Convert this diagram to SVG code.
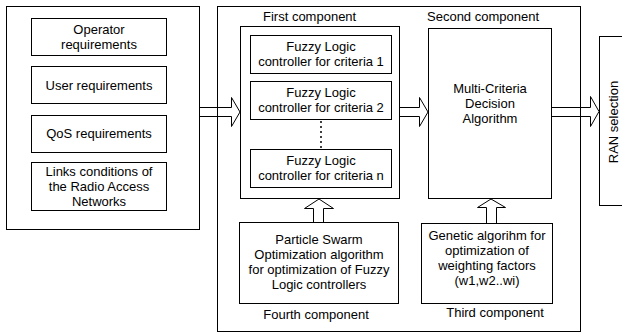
<svg xmlns="http://www.w3.org/2000/svg" width="622" height="333" viewBox="0 0 622 333">
<style>
.b{fill:#fff;stroke:#000;stroke-width:1}
.c{fill:none;stroke:#000;stroke-width:1}
.a{fill:none;stroke:#000;stroke-width:1;stroke-linejoin:miter}
text{font-family:"Liberation Sans",Arial,sans-serif;font-size:13px;fill:#000}
.m{text-anchor:middle}
</style>
<rect width="622" height="333" fill="#fff"/>
<g id="inputs">
<rect class="c" x="6.5" y="6.5" width="193" height="223"/>
<g id="operator"><rect class="b" x="31.5" y="18.5" width="135" height="37"/><text class="m" x="99" y="34">Operator</text><text class="m" x="99" y="49">requirements</text></g>
<g id="user"><rect class="b" x="31.5" y="66.5" width="135" height="37"/><text class="m" x="99" y="90">User requirements</text></g>
<g id="qos"><rect class="b" x="31.5" y="115.5" width="135" height="37"/><text class="m" x="99" y="138">QoS requirements</text></g>
<g id="links"><rect class="b" x="31.5" y="162.5" width="135" height="48"/><text class="m" x="99" y="176">Links conditions of</text><text class="m" x="99" y="191">the Radio Access</text><text class="m" x="99" y="206">Networks</text></g>
</g>
<g id="system">
<rect class="c" x="217.5" y="6.5" width="363" height="325"/>
</g>
<g id="first">
<text x="263" y="21">First component</text>
<rect class="c" x="240.5" y="26.5" width="159" height="172"/>
<g id="fl1"><rect class="b" x="250.5" y="35.5" width="141" height="38"/><text class="m" x="321" y="51">Fuzzy Logic</text><text class="m" x="321" y="66">controller for criteria 1</text></g>
<g id="fl2"><rect class="b" x="250.5" y="81.5" width="141" height="38"/><text class="m" x="321" y="97">Fuzzy Logic</text><text class="m" x="321" y="112">controller for criteria 2</text></g>
<g id="fln"><rect class="b" x="250.5" y="149.5" width="141" height="38"/><text class="m" x="321" y="165">Fuzzy Logic</text><text class="m" x="321" y="180">controller for criteria n</text></g>
</g>
<g id="second">
<text x="427" y="21">Second component</text>
<g id="mcda"><rect class="b" x="428.5" y="28.5" width="123" height="170"/><text class="m" x="490" y="93">Multi-Criteria</text><text class="m" x="490" y="108">Decision</text><text class="m" x="490" y="123">Algorithm</text></g>
</g>
<g id="fourth">
<g id="pso"><rect class="b" x="239.5" y="222.5" width="159" height="81"/><text class="m" x="319" y="244">Particle Swarm</text><text class="m" x="319" y="259">Optimization algorithm</text><text class="m" x="319" y="274">for optimization of Fuzzy</text><text class="m" x="319" y="289">Logic controllers</text></g>
<text class="m" x="316" y="319">Fourth component</text>
</g>
<g id="third">
<g id="ga"><rect class="b" x="421.5" y="223.5" width="131" height="80"/><text class="m" x="487" y="240">Genetic algorihm for</text><text class="m" x="487" y="255">optimization of</text><text class="m" x="487" y="270">weighting factors</text><text class="m" x="487" y="285">(w1,w2..wi)</text></g>
<text class="m" x="495" y="317">Third component</text>
</g>
<g id="ran">
<rect class="b" x="599.5" y="36.5" width="40" height="169"/>
<text class="m" transform="translate(618,122) rotate(-90)">RAN selection</text>
</g>
<g id="connectors">
<line x1="321" y1="121" x2="321" y2="149" stroke="#000" stroke-width="1.5" stroke-dasharray="2,3"/>
<path class="a" d="M199.5,107.5 H231.5 V97.5 L240,112 L231.5,126.5 V116.5 H199.5"/>
<path class="a" d="M399.5,107.5 H419.5 V97.5 L428,112 L419.5,126.5 V116.5 H399.5"/>
<path class="a" d="M551.5,107.5 H590.5 V96.5 L599,111.5 L590.5,126.5 V116.5 H551.5"/>
<path class="a" d="M313.5,222 V208.5 H304.5 L319,199 L333.5,208.5 H323.5 V222"/>
<path class="a" d="M486.5,223 V207.5 H477.5 L491,199 L505.5,207.5 H496.5 V223"/>
</g>
</svg>
